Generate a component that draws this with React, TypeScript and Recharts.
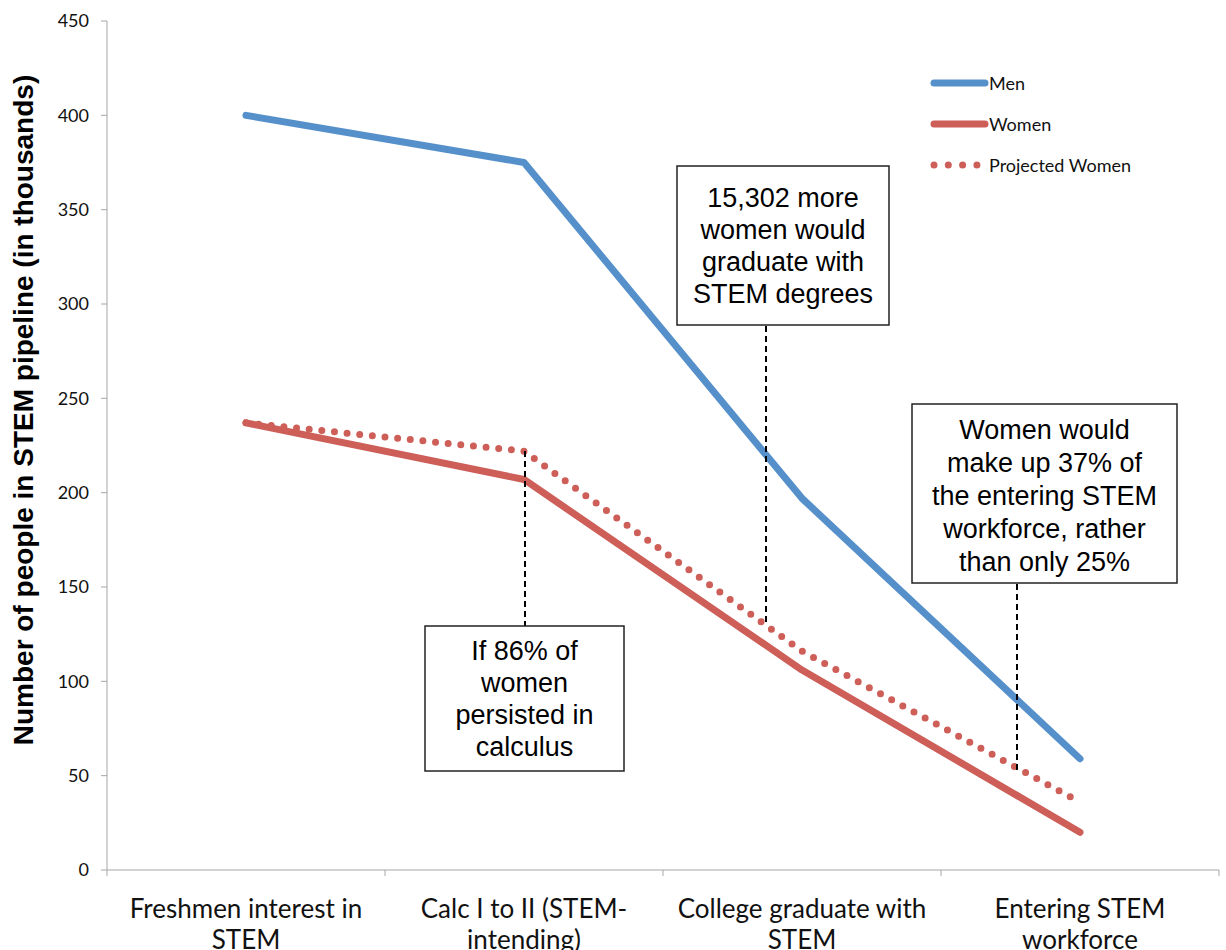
import React from 'react'
import { LineChart, Line, XAxis, YAxis, Legend } from 'recharts'

// stages along the pipeline ("\n" marks where the label wraps)
const categories = [
  'Freshmen interest in\nSTEM',
  'Calc I to II (STEM-\nintending)',
  'College graduate with\nSTEM',
  'Entering STEM\nworkforce',
]
const men = [400, 375, 197, 59]
const women = [237, 207, 106, 20]
const projectedWomen = [237, 222, 116, 36]
const yTicks = [0, 50, 100, 150, 200, 250, 300, 350, 400, 450]
const boundaryTicks = [0, 1, 2, 3, 4]

const BLUE = '#5690CB'
const RED = '#CD5E58'
const AXIS = '#A6A6A6'
const TICK_FONT = 'Lato, "Open Sans", sans-serif'
const NOTE_FONT = '"Liberation Sans", Arial, sans-serif'

const W = 1226
const H = 950
const PLOT_LEFT = 107
const PLOT_RIGHT = 1219
const HALF_BAND = (PLOT_RIGHT - PLOT_LEFT) / categories.length / 2

const series = [
  { key: 'men', name: 'Men', color: BLUE, dash: undefined as string | undefined },
  { key: 'women', name: 'Women', color: RED, dash: undefined as string | undefined },
  { key: 'projected', name: 'Projected Women', color: RED, dash: '0 12.7' },
]

// each stage sits in the middle of its slot, slot edges carry the tick marks
const data = categories.map((stage, i) => ({
  stage,
  pos: i + 0.5,
  men: men[i],
  women: women[i],
  projected: projectedWomen[i],
}))

const notes = [
  { x: 425, y: 626, w: 199, h: 145, first: 34, step: 32, lines: ['If 86% of', 'women', 'persisted in', 'calculus'], lx: 525, from: 451 },
  { x: 677, y: 166, w: 212, h: 159, first: 41, step: 32, lines: ['15,302 more', 'women would', 'graduate with', 'STEM degrees'], lx: 766, from: 622 },
  { x: 912, y: 404, w: 265, h: 179, first: 35, step: 33, lines: ['Women would', 'make up 37% of', 'the entering STEM', 'workforce, rather', 'than only 25%'], lx: 1017, from: 770 },
]

const StageTick = (props: any) => {
  const { x, y, payload } = props
  const label = categories[payload.value]
  if (label === undefined) return <g />
  const cx = x + HALF_BAND
  return (
    <text x={cx} y={y} textAnchor="middle" fill="#111" fontSize={26} fontFamily={TICK_FONT}>
      {label.split('\n').map((l, i) => (
        <tspan key={i} x={cx} dy={i === 0 ? 40 : 31}>{l}</tspan>
      ))}
    </text>
  )
}

const renderLegend = () => (
  <div style={{ fontFamily: TICK_FONT, fontSize: 18, color: '#111' }}>
    {series.map((s) => (
      <div key={s.key} style={{ display: 'flex', alignItems: 'center', height: 41 }}>
        <svg width={59} height={10} style={{ display: 'block' }}>
          <line x1={4} y1={5} x2={55} y2={5} stroke={s.color} strokeWidth={7}
            strokeLinecap="round" strokeDasharray={s.dash ? '0 14.3' : undefined} />
        </svg>
        <span>{s.name}</span>
      </div>
    ))}
  </div>
)

export default function App() {
  return (
    <div style={{ position: 'absolute', left: 0, top: 0, width: W, height: H, background: '#fff' }}>
      <LineChart width={W} height={H} data={data} margin={{ top: 21, right: W - PLOT_RIGHT, bottom: 0, left: 0 }}>
        <XAxis dataKey="pos" type="number" domain={[0, categories.length]} ticks={boundaryTicks}
          height={80} stroke={AXIS} tickSize={6} interval={0} tick={<StageTick />} />
        <YAxis domain={[0, 450]} ticks={yTicks} width={PLOT_LEFT} stroke={AXIS} tickSize={6} tickMargin={12}
          tick={{ fill: '#111', fontSize: 18, fontFamily: TICK_FONT }} />
        <Legend layout="vertical" align="center" verticalAlign="middle" content={renderLegend}
          wrapperStyle={{ left: 930, top: 62, width: 260 }} />
        {series.map((s) => (
          <Line key={s.key} dataKey={s.key} name={s.name} stroke={s.color} strokeWidth={7}
            strokeDasharray={s.dash} strokeLinecap="round" strokeLinejoin="round" dot={false}
            activeDot={false} isAnimationActive={false} />
        ))}
      </LineChart>
      <svg width={W} height={H} style={{ position: 'absolute', left: 0, top: 0, pointerEvents: 'none' }}>
        <text x={33} y={410} transform="rotate(-90 33 410)" textAnchor="middle" fontSize={28} fontWeight="bold"
          fontFamily={NOTE_FONT} fill="#000">
          Number of people in STEM pipeline (in thousands)
        </text>
        {notes.map((n, i) => (
          <g key={i}>
            <line x1={n.lx} y1={n.from} x2={n.lx} y2={n.from < n.y ? n.y : n.y + n.h} stroke="#000"
              strokeWidth={2} strokeDasharray="6 4" />
            <rect x={n.x} y={n.y} width={n.w} height={n.h} fill="#fff" stroke="#222" strokeWidth={1.5} />
            <text textAnchor="middle" fontSize={27} fontFamily={NOTE_FONT} fill="#000">
              {n.lines.map((l, j) => (
                <tspan key={j} x={n.x + n.w / 2} y={n.y + n.first + j * n.step}>{l}</tspan>
              ))}
            </text>
          </g>
        ))}
      </svg>
    </div>
  )
}
